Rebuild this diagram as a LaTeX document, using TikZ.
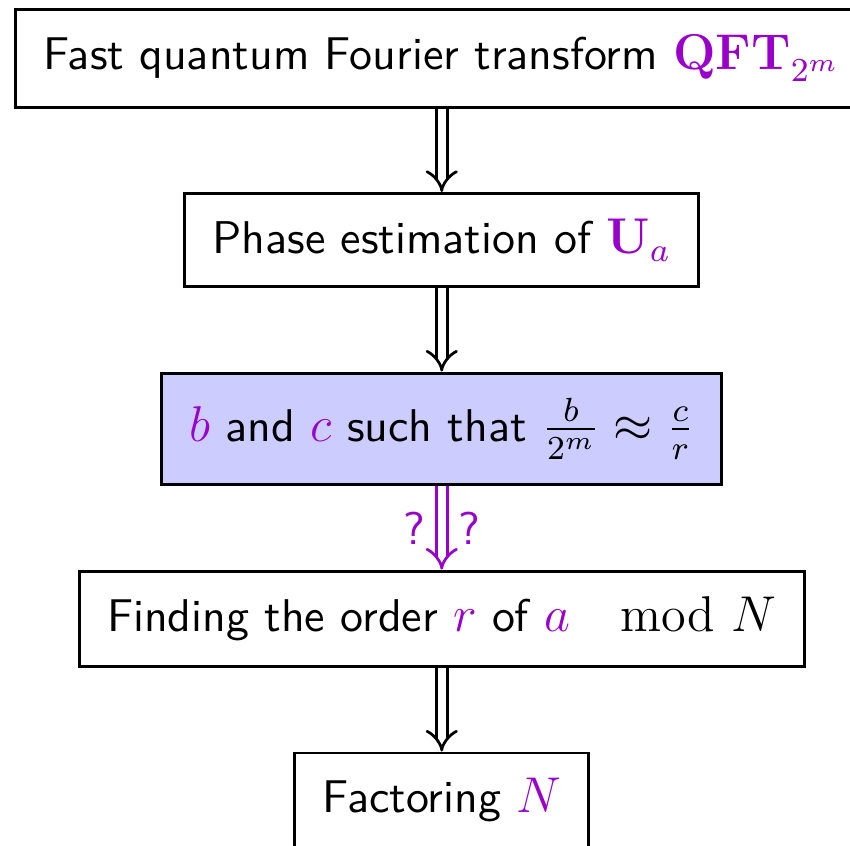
\documentclass[tikz,border=0pt,11pt]{standalone}
\usepackage{xcolor}
\usepackage{amsmath}
\usepackage{amssymb}
\usepackage{tikz}
\usetikzlibrary{arrows.meta,calc,positioning}
\DeclareMathSizes{10.95}{12}{8}{6}
\definecolor{vurguMor}{HTML}{9900CC}
\definecolor{kutuMavi}{HTML}{CCCCFF}
\newcommand{\mor}[1]{\textcolor{vurguMor}{#1}}

\begin{document}
\begin{tikzpicture}[node distance=19.9pt,
  kutu/.style={draw,line width=0.7pt,inner xsep=6.6pt,inner ysep=6.1pt,font=\sffamily},
  okCift/.style={double,double distance=2pt,line width=0.65pt,-{Implies}}]
\node[kutu] (qft) {Fast quantum Fourier transform $\mor{\mathbf{QFT}_{2^m}}$};
\node[kutu,below=of qft] (faz) {Phase estimation of $\mor{\mathbf{U}_a}$};
\node[kutu,fill=kutuMavi,below=of faz] (bc) {$\mor{b}$ and $\mor{c}$ such that $\frac{b}{2^m}\approx\frac{c}{r}$};
\node[kutu,below=of bc] (mertebe) {Finding the order $\mor{r}$ of $\mor{a}\mkern6mu\mod N$};
\node[kutu,below=of mertebe] (carpan) {Factoring $\mor{N}$};
\draw[okCift] (qft) -- (faz);
\draw[okCift] (faz) -- (bc);
\draw[okCift,vurguMor] (bc) -- node[left,font=\sffamily]{?} node[right,font=\sffamily]{?} (mertebe);
\draw[okCift] (mertebe) -- (carpan);
% resmin kesildigi cerceve
\pgfresetboundingbox
\useasboundingbox ($(qft.north west)+(-3.34pt,1.91pt)$) rectangle +(202.7pt,-201.7pt);
\end{tikzpicture}
\end{document}
